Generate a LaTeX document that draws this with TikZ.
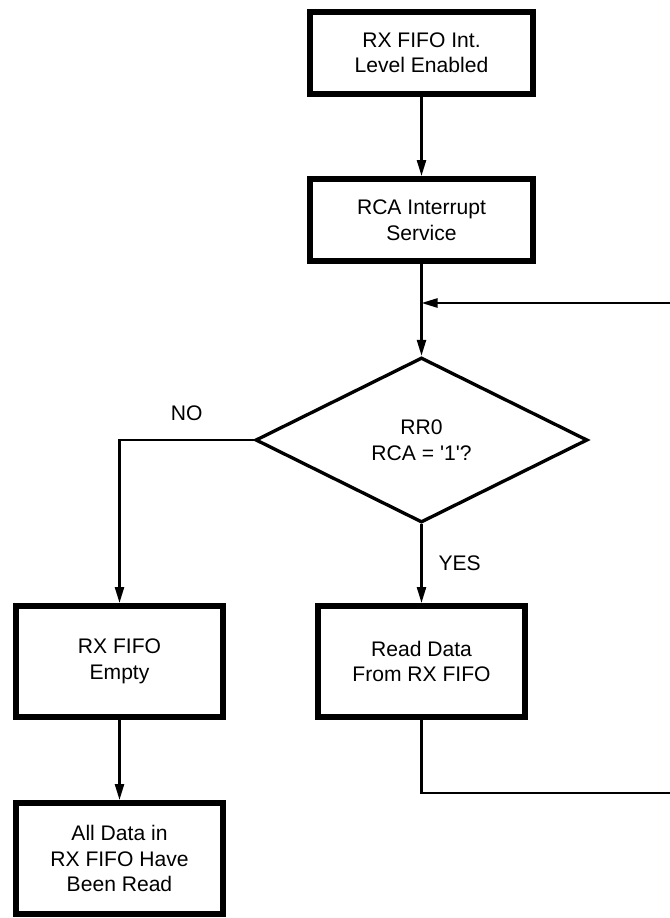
\documentclass[tikz,border=0pt]{standalone}
\usepackage{fontspec}
\setmainfont{Liberation Sans}
\usetikzlibrary{shapes.geometric,arrows.meta}

\tikzset{
  box/.style={rectangle, draw, line width=3.4pt, align=center, inner sep=0pt,
    font=\fontsize{12}{14.5}\selectfont},
  decision/.style={diamond, draw, line width=1.9pt, align=center, inner sep=0pt,
    minimum width=6.64cm, minimum height=3.3cm, font=\fontsize{12}{14.5}\selectfont},
  flow/.style={draw, line width=1.4pt, -{Triangle[length=0.32cm,width=0.18cm]}},
  answer/.style={font=\fontsize{12}{14.5}\selectfont}
}

\begin{document}
\begin{tikzpicture}
    \useasboundingbox (0,0) rectangle (13.4,-18.36);

    \node[box, minimum width=4.46cm, minimum height=1.64cm] (enable) at (8.43,-1.06) {RX FIFO Int.\\Level Enabled};
    \node[box, minimum width=4.46cm, minimum height=1.64cm] (service) at (8.43,-4.40) {RCA Interrupt\\Service};
    \node[decision] (check) at (8.43,-8.80) {RR0\\RCA = \textquotesingle 1\textquotesingle ?};
    \node[box, minimum width=4.13cm, minimum height=2.22cm] (read) at (8.43,-13.23) {Read Data\\From RX FIFO};
    \node[box, minimum width=4.13cm, minimum height=2.22cm] (empty) at (2.39,-13.23) {RX FIFO\\Empty};
    \node[box, minimum width=4.13cm, minimum height=2.22cm] (done) at (2.39,-17.17) {All Data in\\RX FIFO Have\\Been Read};

    % loop back points
    \coordinate (join) at (8.43,-6.06);
    \coordinate (back) at (13.55,-15.86);

    \draw[flow] (enable) -- (service);
    \draw[flow] (service) -- (check);
    \draw[flow] (check.west) -| node[pos=0.25, above=0.25cm, answer] {NO} (empty.north);
    \draw[flow] (check.south) -- node[right=0.2cm, answer] {YES} (read.north);
    \draw[flow] (empty) -- (done);
    \draw[flow] (read.south) |- (back) |- (join);
\end{tikzpicture}
\end{document}
